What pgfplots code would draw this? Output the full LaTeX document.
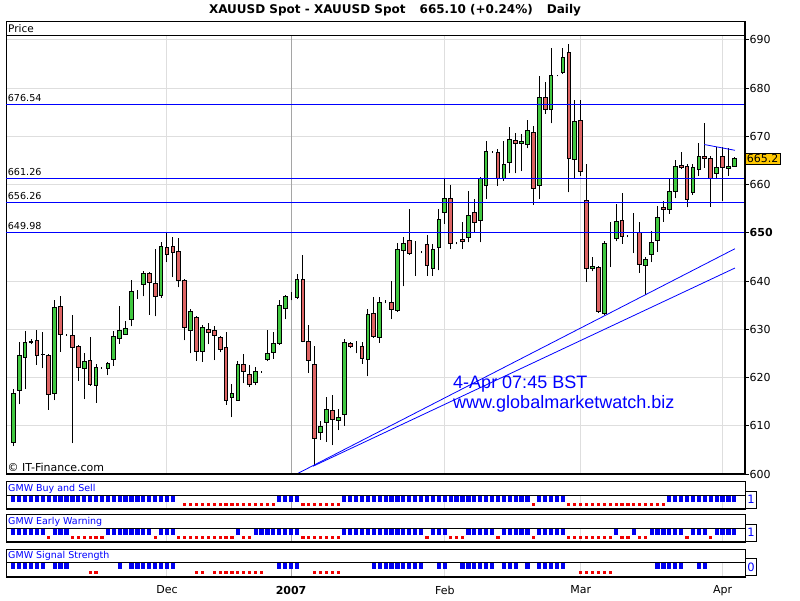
\documentclass[border=0pt]{standalone}
\usepackage{pgfplots}
\pgfplotsset{compat=1.18}
\usepackage{pgfplotstable}
\usepackage{fontspec}
\setmainfont{DejaVu Sans}
\newfontfamily\arialfont{Liberation Sans}
\definecolor{cgreen}{RGB}{64,200,64}
\definecolor{cred}{RGB}{222,100,100}
\definecolor{gridc}{RGB}{222,222,222}
\definecolor{yearc}{RGB}{165,165,165}
\definecolor{gold}{RGB}{255,200,0}
\definecolor{sigblue}{RGB}{0,0,240}
\definecolor{sigred}{RGB}{240,0,0}
\pgfdeclareplotmark{bbar}{\pgfpathrectangle{\pgfqpoint{-2.1pt}{-3pt}}{\pgfqpoint{4.2pt}{6pt}}\pgfusepathqfill}
\pgfdeclareplotmark{rsq}{\pgfpathrectangle{\pgfqpoint{-1.6pt}{-1.6pt}}{\pgfqpoint{3.2pt}{3.2pt}}\pgfusepathqfill}

\pgfplotstableread{
i O H L C s1 s2 s3
0 606.6 617.7 605.8 616.6 1 1 1
1 617.3 627.4 614.5 624.5 1 1 1
2 624.1 629.7 617.6 627.2 1 1 1
3 627.5 627.9 626.9 627.3 1 1 1
4 627.6 629.9 622.6 624.5 1 1 1
5 624.8 629.4 621.9 624.7 1 1 1
6 624.6 624.8 613.3 616.5 1 -1 0
7 616.7 636.0 615.3 634.6 1 1 1
8 634.8 636.9 625.3 628.9 1 1 1
9 628.9 629.1 628.7 628.9 1 1 1
10 628.7 633.0 606.4 626.2 1 -1 0
11 626.4 626.8 619.3 622.1 1 -1 0
12 621.9 625.1 615.5 623.3 1 -1 0
13 623.5 628.4 618.3 618.6 1 -1 -1
14 618.4 622.9 614.8 622.0 1 -1 -1
15 622.0 622.2 621.8 622.0 1 -1 0
16 621.9 623.2 620.5 623.0 1 1 0
17 623.7 629.6 622.4 628.4 1 1 0
18 628.1 634.8 627.0 629.8 1 1 1
19 629.0 631.7 628.9 630.1 1 1 0
20 632.0 640.2 630.6 637.9 1 1 1
21 637.9 638.2 636.3 637.9 1 1 1
22 639.2 642.0 636.8 641.5 1 1 1
23 641.5 641.8 633.0 639.6 1 1 1
24 639.4 646.6 632.7 636.7 1 -1 1
25 636.9 648.0 636.5 647.2 1 1 1
26 646.9 650.1 643.9 645.4 1 1 1
27 647.2 649.1 640.8 646.0 1 1 1
28 646.2 648.9 638.7 640.2 0 -1 0
29 640.2 640.5 627.7 630.3 -1 -1 0
30 629.8 634.3 625.0 633.6 -1 -1 0
31 632.5 632.8 623.5 625.3 -1 -1 -1
32 625.3 630.8 623.3 630.3 -1 -1 -1
33 629.9 631.3 626.9 629.4 -1 -1 0
34 629.7 630.6 623.6 628.7 -1 -1 -1
35 628.2 628.6 625.2 625.9 -1 -1 -1
36 626.2 629.4 614.4 615.3 -1 -1 -1
37 615.8 618.6 611.8 616.6 -1 -1 -1
38 615.3 623.4 615.2 622.7 -1 1 -1
39 622.7 624.8 618.8 621.2 -1 -1 -1
40 620.7 622.6 618.1 618.6 -1 -1 -1
41 618.9 622.2 618.4 621.2 -1 1 -1
42 621.2 621.4 621.0 621.2 -1 1 -1
43 623.8 629.9 623.4 624.9 -1 1 0
44 625.1 629.4 623.9 627.0 -1 1 0
45 627.0 636.0 626.8 635.0 1 1 1
46 634.4 637.2 632.1 636.7 1 1 1
47 636.8 637.7 636.0 636.8 1 1 1
48 636.6 641.5 636.3 640.3 1 1 1
49 640.3 645.4 627.3 627.5 -1 -1 0
50 627.4 630.8 621.0 623.5 -1 -1 0
51 622.8 626.6 601.9 607.3 -1 -1 -1
52 608.6 610.9 607.1 609.8 -1 -1 -1
53 610.7 616.0 606.7 613.3 -1 -1 -1
54 613.1 616.4 606.0 611.4 -1 -1 -1
55 611.0 613.5 609.1 611.7 -1 -1 -1
56 612.4 627.9 610.0 627.2 1 1 0
57 627.0 627.3 626.1 626.4 1 1 0
58 626.6 627.6 625.0 626.6 1 1 0
59 626.5 627.4 622.9 623.9 1 1 0
60 623.8 634.1 620.3 633.0 1 1 0
61 633.2 636.7 628.2 628.4 1 1 1
62 628.2 636.7 627.2 635.6 1 1 1
63 635.7 636.0 635.4 635.7 1 1 1
64 635.6 640.1 632.1 634.1 1 1 1
65 633.9 647.9 633.6 646.6 1 1 1
66 646.4 649.1 638.9 647.7 1 1 1
67 648.5 654.9 645.4 645.8 1 1 1
68 646.0 648.2 641.1 646.0 1 1 1
69 646.0 646.2 645.8 646.0 1 1 1
70 647.5 649.5 641.1 643.2 1 -1 0
71 642.7 647.7 641.1 646.6 1 1 0
72 647.0 654.9 642.2 652.7 1 1 1
73 654.2 661.4 651.8 657.1 1 1 1
74 657.1 659.9 646.6 647.8 1 -1 0
75 647.8 648.0 647.6 647.8 1 -1 0
76 648.7 652.3 646.6 648.2 1 -1 1
77 649.1 658.6 648.0 653.5 1 1 1
78 654.2 657.0 650.1 652.2 1 1 1
79 652.5 661.5 648.0 661.3 1 1 1
80 659.9 669.1 657.0 666.8 1 1 1
81 666.8 667.0 666.6 666.8 1 1 1
82 666.6 667.3 659.7 661.3 1 -1 0
83 661.3 669.1 660.8 664.2 1 1 1
84 664.5 672.0 662.3 669.4 1 1 1
85 669.1 670.6 662.3 668.5 1 1 1
86 668.5 670.5 662.8 668.9 1 1 0
87 668.3 673.3 667.5 671.2 1 1 1
88 670.7 672.1 655.8 659.2 -1 -1 0
89 659.7 682.6 657.0 678.0 1 1 1
90 678.0 681.2 674.7 675.5 1 1 1
91 675.5 688.4 672.7 682.6 1 1 1
92 682.6 682.8 682.4 682.6 1 1 1
93 683.3 688.3 683.0 686.4 1 1 1
94 687.3 689.1 658.4 665.4 -1 -1 0
95 665.2 677.6 661.1 673.0 -1 -1 0
96 673.3 677.6 661.8 662.7 -1 -1 -1
97 656.6 664.3 639.8 642.5 -1 -1 -1
98 642.5 644.9 642.0 643.1 -1 -1 -1
99 642.9 643.1 633.4 633.6 -1 -1 -1
100 633.2 648.2 632.9 647.8 -1 -1 -1
101 647.8 652.2 642.9 647.8 -1 -1 -1
102 648.9 656.0 648.2 652.4 -1 1 0
103 652.6 658.2 647.7 649.3 -1 -1 0
104 649.3 649.5 649.1 649.3 -1 -1 0
105 649.4 654.1 645.8 649.4 -1 1 0
106 650.1 652.3 641.7 643.4 -1 -1 0
107 643.2 645.0 637.2 644.4 -1 -1 0
108 645.5 650.3 643.9 648.0 -1 1 0
109 648.5 655.6 646.1 653.2 -1 1 1
110 655.3 656.6 652.3 654.9 -1 1 1
111 654.9 661.1 653.9 658.6 1 1 1
112 658.6 665.0 657.2 663.8 1 1 1
113 664.0 666.8 663.2 663.6 1 1 1
114 663.8 664.3 655.3 657.0 1 -1 0
115 658.4 664.3 657.9 663.6 1 1 0
116 663.2 668.7 661.8 665.9 1 1 1
117 665.9 672.8 663.5 665.4 1 1 1
118 665.4 666.0 655.4 661.3 1 -1 0
119 662.3 667.8 661.1 663.5 1 1 0
120 665.8 667.8 656.5 663.5 1 1 0
121 663.3 667.5 661.8 663.7 1 1 0
122 663.8 665.8 663.7 665.4 1 1 0
}\ohlc

\pgfplotsset{
  basex/.style={scale only axis, width=739pt, xmin=-1.235, xmax=123.8, clip mode=individual},
  pricegeom/.style={basex, height=439pt, ymin=600, ymax=691, at={(6pt,126pt)}, anchor=south west},
  sig/.style={basex, ymin=0, ymax=1, anchor=south west, ytick=\empty,
    xtick={26,47,73,96,120}, xticklabels={}, xmajorgrids,
    major grid style={gridc, line width=1pt}, xtick style={draw=none},
    axis line style={line width=0.9pt}},
}

\begin{document}
\begin{tikzpicture}
\useasboundingbox (0pt,0pt) rectangle (800pt,600pt);
\fill[white] (0pt,0pt) rectangle (800pt,600pt);
\node[font=\bfseries\fontsize{12}{14}\selectfont] at (395pt,590pt)
  {XAUUSD Spot - XAUUSD Spot\hspace{14pt}665.10 (+0.24\%)\hspace{14pt}Daily};

% ---- price panel: grid, wicks
\begin{axis}[pricegeom, name=price,
  axis line style={line width=0.9pt},
  xtick={26,47,73,96,120}, xticklabels={}, xtick style={draw=none},
  ytick={600,610,...,690},
  yticklabels={600,610,620,630,640,\textbf{650},660,670,680,690},
  ytick pos=right, yticklabel pos=right, tick align=outside, major tick length=3.5pt,
  ytick style={black, line width=1pt},
  yticklabel style={font=\fontsize{11}{13}\selectfont, inner sep=1pt},
  xmajorgrids, ymajorgrids, major grid style={gridc, line width=1pt}]
\addplot[yearc, line width=1pt] coordinates {(47,600) (47,691)};
\addplot[black, only marks, mark size=0pt, mark options={draw=none, fill=none},
  error bars/.cd, y dir=plus, y explicit, error mark=none,
  error bar style={black, line width=1pt}]
  table[x=i, y=L, y error expr={\thisrow{H}-\thisrow{L}}] {\ohlc};
\end{axis}

% ---- candle bodies
\begin{axis}[pricegeom, hide axis, ybar stacked, bar width=3.7pt]
\addplot[draw=none, fill=none] table[x=i, y expr={min(\thisrow{O},\thisrow{C})}] {\ohlc};
\addplot[draw=black, fill=cgreen, line width=1pt] table[x=i, y expr={max(\thisrow{C}-\thisrow{O},0)}] {\ohlc};
\addplot[draw=black, fill=cred, line width=1pt] table[x=i, y expr={max(\thisrow{O}-\thisrow{C},0)}] {\ohlc};
\end{axis}

% ---- overlay lines and texts
\begin{axis}[pricegeom, hide axis]
\addplot[blue, line width=1pt] coordinates {(-1.235,676.54) (123.8,676.54)};
\addplot[blue, line width=1pt] coordinates {(-1.235,661.26) (123.8,661.26)};
\addplot[blue, line width=1pt] coordinates {(-1.235,656.26) (123.8,656.26)};
\addplot[blue, line width=1pt] coordinates {(-1.235,649.98) (123.8,649.98)};
\addplot[blue, line width=0.8pt] coordinates {(47.95,600) (122.1,646.7)};
\addplot[blue, line width=0.8pt] coordinates {(50.7,601.6) (122.1,642.7)};
\addplot[blue, line width=0.8pt] coordinates {(116.9,668.3) (122.1,667.1)};
\node[anchor=south west, inner sep=0pt, yshift=3pt, font=\fontsize{9.6}{11}\selectfont] at (axis cs:-0.95,676.54) {676.54};
\node[anchor=south west, inner sep=0pt, yshift=3pt, font=\fontsize{9.6}{11}\selectfont] at (axis cs:-0.95,661.26) {661.26};
\node[anchor=south west, inner sep=0pt, yshift=3pt, font=\fontsize{9.6}{11}\selectfont] at (axis cs:-0.95,656.26) {656.26};
\node[anchor=south west, inner sep=0pt, yshift=3pt, font=\fontsize{9.6}{11}\selectfont] at (axis cs:-0.95,649.98) {649.98};
\node[anchor=south west, inner sep=0pt, font=\fontsize{11}{13}\selectfont] at (rel axis cs:0.002,0.006) {\textcopyright\ IT-Finance.com};
\node[anchor=north west, align=left, text=blue, inner sep=0pt, font=\arialfont\fontsize{18}{19.5}\selectfont] at (axis cs:74.4,620.3) {4-Apr 07:45 BST\\www.globalmarketwatch.biz};
\node[anchor=west, fill=gold, draw=black, line width=0.8pt, inner sep=1.5pt, font=\fontsize{11}{13}\selectfont] at (axis cs:123.8,665.3) {665.2};
\end{axis}
\draw[line width=2pt] (price.south west) -- (price.south east) -- ([yshift=13.3pt]price.north east);
\draw[line width=0.9pt] (price.north west) rectangle ([yshift=13.3pt]price.north east);
\node[anchor=west, inner sep=0pt, font=\fontsize{10.5}{12}\selectfont] at ([xshift=2pt,yshift=6.6pt]price.north west) {Price};

% ---- signal panel 1
\begin{axis}[sig, name=s1, at={(6pt,91pt)}, height=14pt]
\addplot[yearc, line width=1pt] coordinates {(47,0) (47,1)};
\addplot[only marks, mark=bbar, color=sigblue, restrict y to domain=0:2] table[x=i, y expr={\thisrow{s1}>0 ? 0.725 : -1}] {\ohlc};
\addplot[only marks, mark=rsq, color=sigred, restrict y to domain=0:2] table[x=i, y expr={\thisrow{s1}<0 ? 0.32 : -1}] {\ohlc};
\end{axis}
% ---- signal panel 2
\begin{axis}[sig, name=s2, at={(6pt,58pt)}, height=14pt]
\addplot[yearc, line width=1pt] coordinates {(47,0) (47,1)};
\addplot[only marks, mark=bbar, color=sigblue, restrict y to domain=0:2] table[x=i, y expr={\thisrow{s2}>0 ? 0.725 : -1}] {\ohlc};
\addplot[only marks, mark=rsq, color=sigred, restrict y to domain=0:2] table[x=i, y expr={\thisrow{s2}<0 ? 0.32 : -1}] {\ohlc};
\end{axis}
% ---- signal panel 3
\begin{axis}[sig, name=s3, at={(6pt,22.7pt)}, height=15pt,
  xticklabels={Dec,\textbf{2007},Feb,Mar,Apr}, xtick style={black, line width=1pt},
  xtick pos=left, tick align=outside, major tick length=5pt,
  xticklabel style={font=\fontsize{11}{13}\selectfont}]
\addplot[yearc, line width=1pt] coordinates {(47,0) (47,1)};
\addplot[only marks, mark=bbar, color=sigblue, restrict y to domain=0:2] table[x=i, y expr={\thisrow{s3}>0 ? 0.725 : -1}] {\ohlc};
\addplot[only marks, mark=rsq, color=sigred, restrict y to domain=0:2] table[x=i, y expr={\thisrow{s3}<0 ? 0.32 : -1}] {\ohlc};
\end{axis}

\foreach \s/\t/\v in {s1/GMW Buy and Sell/1, s2/GMW Early Warning/1, s3/GMW Signal Strength/0}{
  \draw[line width=0.9pt] (\s.north west) rectangle ([yshift=13.3pt]\s.north east);
  \draw[line width=2pt] (\s.south west) -- (\s.south east);
  \node[anchor=west, inner sep=0pt, text=blue, font=\fontsize{9.5}{11}\selectfont] at ([xshift=2pt,yshift=6.6pt]\s.north west) {\t};
  \node[anchor=west, draw=black, line width=0.8pt, text=blue, minimum width=11pt, minimum height=17pt, inner sep=0pt, font=\fontsize{11.5}{13}\selectfont] at ([yshift=2.5pt]\s.east) {\v};
}
\end{tikzpicture}
\end{document}
